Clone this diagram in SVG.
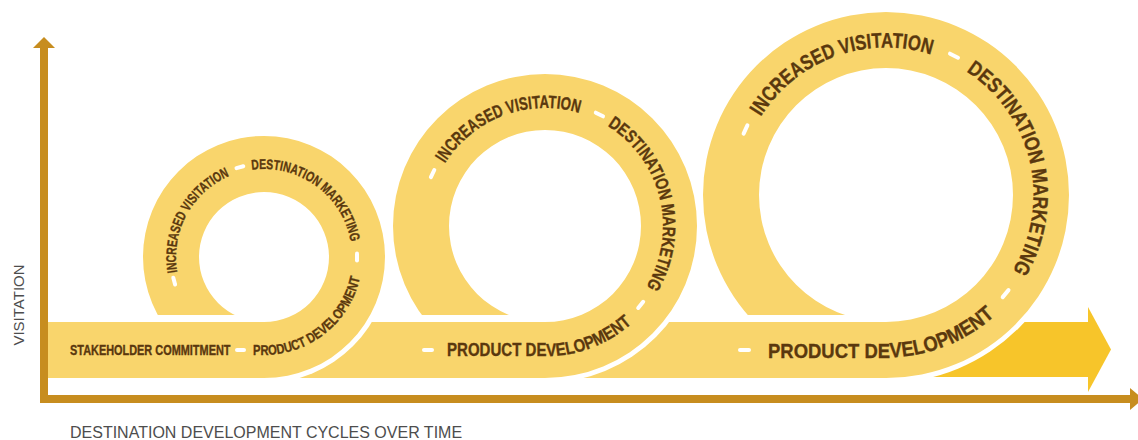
<svg xmlns="http://www.w3.org/2000/svg" width="1138" height="440" viewBox="0 0 1138 440">
<style>
.band{fill:#f9d56c}
.arrowband{fill:#f7c52a}
.gap{fill:#ffffff}
.axis{fill:#c78d1f}
.lbl{font-family:"Liberation Sans",Arial,sans-serif;font-weight:bold;fill:#5a380e;stroke:#5a380e;stroke-width:0.35}
.s1{font-size:14px}
.s2{font-size:18px}
.s3{font-size:21px}
.dash{stroke:#ffffff;stroke-width:4;stroke-linecap:round;fill:none}
.axlbl{font-family:"Liberation Sans",Arial,sans-serif;fill:#4d4d4d}
</style>
<defs>
<path id="p1a" d="M177.3,272.3 A88,88 0 0 1 229.6,176.0"/>
<path id="p1b" d="M251.8,169.9 A88,88 0 0 1 350.7,241.7"/>
<path id="p1c" d="M253,355 H264 A98,98 0 0 0 359.9,277.4"/>
<path id="p2a" d="M444.9,163.5 A118,118 0 0 1 579.5,113.2"/>
<path id="p2b" d="M607.5,125.9 A118,118 0 0 1 646.1,286.8"/>
<path id="p2c" d="M447,356.4 H545 A130.4,130.4 0 0 0 632.3,322.9"/>
<path id="p3a" d="M760.9,116.8 A147.5,147.5 0 0 1 931.6,54.7"/>
<path id="p3b" d="M966.3,71.3 A147.5,147.5 0 0 1 1012.4,271.0"/>
<path id="p3c" d="M768,357.5 H886 A162.5,162.5 0 0 0 994.7,315.8"/>
</defs>

<g id="axes">
<rect class="axis" x="40" y="44" width="8" height="359"/>
<polygon class="axis" points="33,48 44,37 55,48"/>
<rect class="axis" x="40" y="395" width="1092" height="8"/>
<polygon class="axis" points="1130,388 1143,399 1130,410"/>
<text class="axlbl" font-size="15" text-anchor="middle" transform="translate(24,305) rotate(-90)">VISITATION</text>
<text class="axlbl" font-size="16" x="70" y="438">DESTINATION DEVELOPMENT CYCLES OVER TIME</text>
</g>

<g id="connectors">
<g id="arrow-out">
<rect class="arrowband" x="886" y="322" width="204" height="55"/>
<polygon class="arrowband" points="1088,307 1111,349.5 1088,392"/>
</g>
</g>

<g id="loop-3">
<circle class="gap" cx="886" cy="195" r="188"/>
<path class="band" fill-rule="evenodd" d="M703,195 A183,183 0 1 0 1069,195 A183,183 0 1 0 703,195 Z M759,195 A127,127 0 1 1 1013,195 A127,127 0 1 1 759,195 Z"/>
</g>

<g id="band-3">
<rect class="gap" x="700" y="315" width="186" height="7"/>
<rect class="band" x="545" y="322" width="341" height="56"/>
</g>

<g id="loop-2">
<circle class="gap" cx="545" cy="226" r="157"/>
<path class="band" fill-rule="evenodd" d="M393,226 A152,152 0 1 0 697,226 A152,152 0 1 0 393,226 Z M449,226 A96,96 0 1 1 641,226 A96,96 0 1 1 449,226 Z"/>
</g>

<g id="band-2">
<rect class="gap" x="390" y="315" width="155" height="7"/>
<rect class="band" x="264" y="322" width="281" height="56"/>
</g>

<g id="loop-1">
<circle class="gap" cx="264" cy="257" r="126"/>
<path class="band" fill-rule="evenodd" d="M143,257 A121,121 0 1 0 385,257 A121,121 0 1 0 143,257 Z M199,257 A65,65 0 1 1 329,257 A65,65 0 1 1 199,257 Z"/>
</g>

<g id="band-1">
<rect class="gap" x="140" y="315" width="124" height="7"/>
<rect class="band" x="48" y="322" width="216" height="56"/>
</g>

<g id="labels-1">
<text class="lbl s1" transform="translate(70,355) scale(0.78,1)">STAKEHOLDER COMMITMENT</text>
<line class="dash" x1="237" y1="350" x2="244" y2="350"/>
<text class="lbl s1"><textPath href="#p1c" textLength="144" lengthAdjust="spacingAndGlyphs">PRODUCT DEVELOPMENT</textPath></text>
<line class="dash" x1="357" y1="253.5" x2="357" y2="260.5"/>
<text class="lbl s1"><textPath href="#p1b" textLength="135" lengthAdjust="spacingAndGlyphs">DESTINATION MARKETING</textPath></text>
<line class="dash" x1="236.5" y1="168.1" x2="243.3" y2="166.3"/>
<text class="lbl s1"><textPath href="#p1a" textLength="118" lengthAdjust="spacingAndGlyphs">INCREASED VISITATION</textPath></text>
<line class="dash" x1="175.1" y1="284.5" x2="173.3" y2="277.7"/>
</g>

<g id="labels-2">
<line class="dash" x1="424" y1="350" x2="432" y2="350"/>
<text class="lbl s2"><textPath href="#p2c" textLength="193" lengthAdjust="spacingAndGlyphs">PRODUCT DEVELOPMENT</textPath></text>
<line class="dash" x1="643.2" y1="301.8" x2="638.2" y2="308.0"/>
<text class="lbl s2"><textPath href="#p2b" textLength="183" lengthAdjust="spacingAndGlyphs">DESTINATION MARKETING</textPath></text>
<line class="dash" x1="595.8" y1="112.7" x2="603.0" y2="116.3"/>
<text class="lbl s2"><textPath href="#p2a" textLength="154" lengthAdjust="spacingAndGlyphs">INCREASED VISITATION</textPath></text>
<line class="dash" x1="430.9" y1="177.2" x2="434.3" y2="170.0"/>
</g>

<g id="labels-3">
<line class="dash" x1="740" y1="350" x2="749" y2="350"/>
<text class="lbl s3"><textPath href="#p3c" textLength="237" lengthAdjust="spacingAndGlyphs">PRODUCT DEVELOPMENT</textPath></text>
<line class="dash" x1="1008.5" y1="290.1" x2="1002.7" y2="297.1"/>
<text class="lbl s3"><textPath href="#p3b" textLength="226" lengthAdjust="spacingAndGlyphs">DESTINATION MARKETING</textPath></text>
<line class="dash" x1="950.0" y1="53.7" x2="958.0" y2="57.7"/>
<text class="lbl s3"><textPath href="#p3a" textLength="195" lengthAdjust="spacingAndGlyphs">INCREASED VISITATION</textPath></text>
<line class="dash" x1="743.6" y1="133.6" x2="747.4" y2="125.4"/>
</g>
</svg>
